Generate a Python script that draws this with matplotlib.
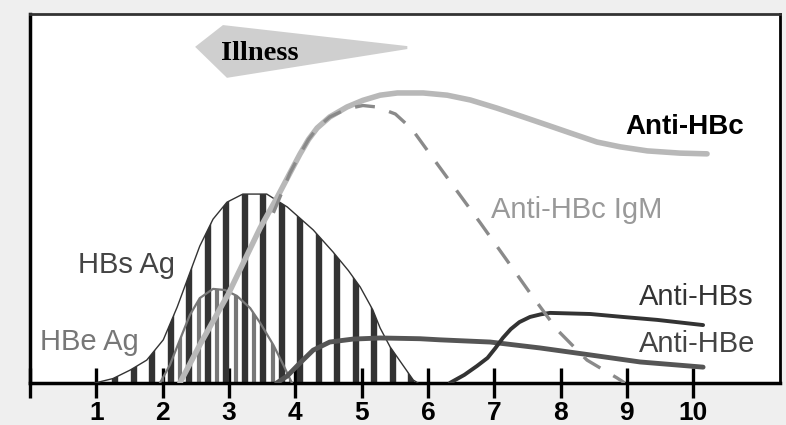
import numpy as np
import matplotlib
matplotlib.use('Agg')
import matplotlib.pyplot as plt
from matplotlib.patches import Polygon

plt.rcParams['font.family'] = ['Liberation Sans', 'DejaVu Sans']

# eixo x: semanas
semanas = list(range(11))
rotulos = [''] + [str(i) for i in range(1, 11)]

# curvas (x em semanas, y em % da altura)
hbsag_x = [0.98, 1.25, 1.51, 1.76, 2.01, 2.22, 2.37, 2.56, 2.76, 2.97, 3.21, 3.57, 3.88,
           4.27, 4.57, 4.80, 4.98, 5.17, 5.28, 5.43, 5.78, 5.85]
hbsag_y = [0, 1.2, 3.5, 6.2, 11.7, 20.6, 27.9, 37.1, 44.4, 49.0, 51.2, 51.2, 47.7,
           41.5, 35.5, 30.5, 26.0, 19.8, 14.9, 9.8, 0.8, 0]

hbeag_x = [1.96, 2.11, 2.26, 2.41, 2.56, 2.76, 2.94, 3.12, 3.32, 3.47, 3.67, 3.82, 3.95]
hbeag_y = [0, 4.9, 11.7, 18.4, 23.0, 25.5, 25.2, 23.6, 20.3, 16.3, 10.3, 4.9, 0]

anti_hbc_x = [2.26, 2.56, 2.99, 3.47, 3.73, 3.92, 4.07, 4.20, 4.33, 4.52, 4.78, 5.02,
              5.28, 5.54, 5.93, 6.29, 6.64, 7.04, 7.44, 7.80, 8.14, 8.55, 8.90,
              9.31, 9.80, 10.21]
anti_hbc_y = [0, 10.3, 24.1, 42.0, 50.4, 56.9, 62.0, 66.0, 69.1, 72.1, 74.8, 76.6,
              78.0, 78.6, 78.6, 78.0, 76.7, 74.5, 72.1, 69.9, 67.8, 65.3, 64.0,
              62.9, 62.3, 62.1]

igm_x = [3.67, 3.92, 4.07, 4.20, 4.33, 4.52, 4.78, 5.02, 5.23, 5.51, 5.76, 6.03, 6.44, 6.79,
         7.19, 7.54, 7.95, 8.40, 8.85, 8.97]
igm_y = [46.1, 56.9, 62.0, 66.0, 69.1, 72.1, 74.3, 75.2, 74.8, 72.9, 68.8, 62.1, 52.0, 43.4,
         33.3, 24.4, 14.4, 6.2, 1.4, 0]

anti_hbe_x = [3.72, 3.88, 4.07, 4.27, 4.52, 4.87, 5.28, 5.88, 6.18, 6.94, 7.69, 8.45, 9.20, 10.15]
anti_hbe_y = [0, 1.9, 5.4, 8.9, 11.1, 11.9, 12.2, 12.0, 11.7, 11.1, 9.5, 7.6, 5.7, 4.3]

anti_hbs_x = [6.33, 6.55, 6.74, 6.90, 7.02, 7.13, 7.25, 7.38, 7.54, 7.70, 7.84, 8.45,
              8.94, 9.46, 10.15]
anti_hbs_y = [0, 2.2, 4.6, 6.8, 9.5, 12.2, 14.6, 16.5, 17.9, 18.6, 19.0, 18.7,
              17.9, 17.1, 15.7]

# seta "Illness"
seta_x = [2.49, 2.91, 5.69, 5.69, 2.97]
seta_y = [91.1, 97.0, 91.3, 90.5, 82.7]

fig = plt.figure(figsize=(7.86, 4.25), dpi=100)
fig.patch.set_facecolor('#efefef')
ax = fig.add_axes([30/786, 42/425, 750/786, 369/425])
ax.set_xlim(0, 11.31)
ax.set_ylim(0, 100)

# area do HBs Ag: fundo branco com listras escuras
hbs_poly = Polygon(np.column_stack([hbsag_x, hbsag_y]), closed=True,
                   facecolor='white', edgecolor='none', zorder=1)
ax.add_patch(hbs_poly)
listras = ax.vlines(np.arange(1.01, 5.9, 0.279), 0, 100, color='#333333', lw=4.6, zorder=2)
listras.set_clip_path(hbs_poly)

# area do HBe Ag: listras cinzas intercaladas
hbe_poly = Polygon(np.column_stack([hbeag_x, hbeag_y]), closed=True,
                   facecolor='none', edgecolor='none', zorder=1)
ax.add_patch(hbe_poly)
listras2 = ax.vlines(np.arange(1.15, 4.0, 0.279), 0, 100, color='#777777', lw=3.0, zorder=2)
listras2.set_clip_path(hbe_poly)

ax.plot(hbsag_x, hbsag_y, color='#333333', lw=1.0, zorder=3)
ax.plot(hbeag_x, hbeag_y, color='#777777', lw=1.6, zorder=3)

ax.plot(anti_hbc_x, anti_hbc_y, color='#b8b8b8', lw=4, solid_capstyle='round',
        solid_joinstyle='round', zorder=4)
ax.plot(igm_x, igm_y, color='#8a8a8a', lw=2.4, dashes=(6, 4.5), zorder=5)
ax.plot(anti_hbe_x, anti_hbe_y, color='#555555', lw=3.5, solid_capstyle='round',
        solid_joinstyle='round', zorder=4)
ax.plot(anti_hbs_x, anti_hbs_y, color='#333333', lw=2.8, solid_capstyle='round',
        solid_joinstyle='round', zorder=4)

ax.add_patch(Polygon(np.column_stack([seta_x, seta_y]), closed=True,
                     facecolor='#cfcfcf', edgecolor='none', zorder=1))
ax.text(3.47, 89.2, 'Illness', family=['Liberation Serif', 'DejaVu Serif'], fontweight='bold',
        fontsize=20.5, ha='center', va='center', zorder=6)

# rotulos das curvas
ax.text(9.88, 69.4, 'Anti-HBc', fontsize=20, fontweight='bold', color='black', ha='center', va='center')
ax.text(8.24, 46.9, 'Anti-HBc IgM', fontsize=21, color='#999999', ha='center', va='center')
ax.text(1.46, 32.0, 'HBs Ag', fontsize=21, color='#444444', ha='center', va='center')
ax.text(0.89, 11.1, 'HBe Ag', fontsize=21, color='#777777', ha='center', va='center')
ax.text(10.05, 23.3, 'Anti-HBs', fontsize=21, color='#333333', ha='center', va='center')
ax.text(10.06, 10.6, 'Anti-HBe', fontsize=21, color='#444444', ha='center', va='center')

ax.set_yticks([])
ax.set_xticks(semanas)
ax.set_xticklabels(rotulos, fontsize=19, fontweight='bold')
ax.tick_params(axis='x', direction='inout', length=22, width=2.4, pad=2)

ax.spines['left'].set_linewidth(2.5)
ax.spines['bottom'].set_linewidth(2.5)
ax.spines['right'].set_linewidth(2)
ax.spines['top'].set_linewidth(2)
ax.spines['top'].set_color('#333333')

fig.savefig('out.png', dpi=100, facecolor=fig.get_facecolor())
